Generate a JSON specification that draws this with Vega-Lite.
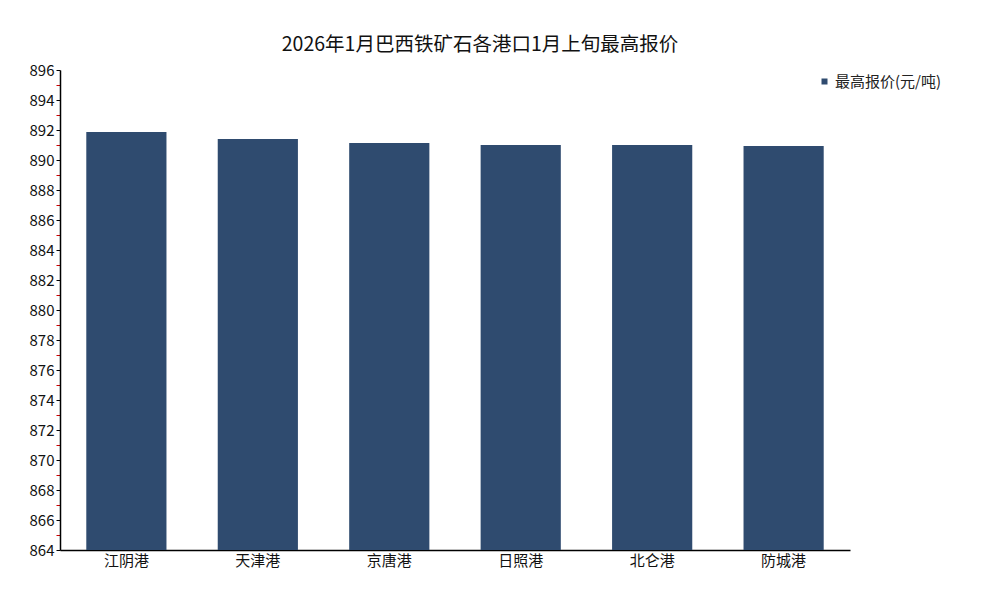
{
  "$schema": "https://vega.github.io/schema/vega-lite/v6.json",
  "autosize": "none",
  "width": 790,
  "height": 480,
  "padding": {"left": 60, "top": 70, "right": 150, "bottom": 50},
  "background": "white",
  "config": {
    "font": "Noto Sans CJK SC",
    "view": {"stroke": null}
  },
  "title": {
    "text": "2026年1月巴西铁矿石各港口1月上旬最高报价",
    "fontSize": 19.5,
    "fontWeight": "normal",
    "color": "#111111",
    "anchor": "middle",
    "dx": 25,
    "offset": 8
  },
  "data": {
    "values": [
      {"port": "江阴港", "price": 891.87, "series": "最高报价(元/吨)"},
      {"port": "天津港", "price": 891.4, "series": "最高报价(元/吨)"},
      {"port": "京唐港", "price": 891.13, "series": "最高报价(元/吨)"},
      {"port": "日照港", "price": 891.0, "series": "最高报价(元/吨)"},
      {"port": "北仑港", "price": 891.0, "series": "最高报价(元/吨)"},
      {"port": "防城港", "price": 890.93, "series": "最高报价(元/吨)"}
    ]
  },
  "mark": {"type": "bar", "clip": true},
  "encoding": {
    "x": {
      "field": "port",
      "type": "nominal",
      "sort": null,
      "scale": {"paddingInner": 0.39, "paddingOuter": 0.2},
      "axis": {
        "title": null,
        "labelAngle": 0,
        "labelFontSize": 15,
        "labelColor": "#111111",
        "ticks": false,
        "labelPadding": 3,
        "domainColor": "#000000",
        "domainWidth": 1.5
      }
    },
    "y": {
      "field": "price",
      "type": "quantitative",
      "scale": {"domain": [864, 896], "zero": false, "nice": false},
      "axis": {
        "title": null,
        "grid": false,
        "values": [864, 865, 866, 867, 868, 869, 870, 871, 872, 873, 874, 875, 876, 877, 878, 879, 880, 881, 882, 883, 884, 885, 886, 887, 888, 889, 890, 891, 892, 893, 894, 895, 896],
        "labelExpr": "datum.value % 2 == 0 ? datum.label : ''",
        "labelOverlap": false,
        "labelFontSize": 15,
        "labelColor": "#111111",
        "labelPadding": 2,
        "tickColor": {"condition": {"test": "datum.value % 2 != 0", "value": "#cc0000"}, "value": "#000000"},
        "tickSize": 4,
        "domainColor": "#000000",
        "domainWidth": 1.5
      }
    },
    "color": {
      "field": "series",
      "type": "nominal",
      "scale": {"range": ["#2f4b6f"]},
      "legend": {
        "title": null,
        "orient": "none",
        "legendX": 757,
        "legendY": 4,
        "symbolType": "square",
        "symbolSize": 36,
        "labelOffset": 3,
        "labelFontSize": 15,
        "labelColor": "#222222",
        "labelLimit": 200
      }
    }
  }
}
